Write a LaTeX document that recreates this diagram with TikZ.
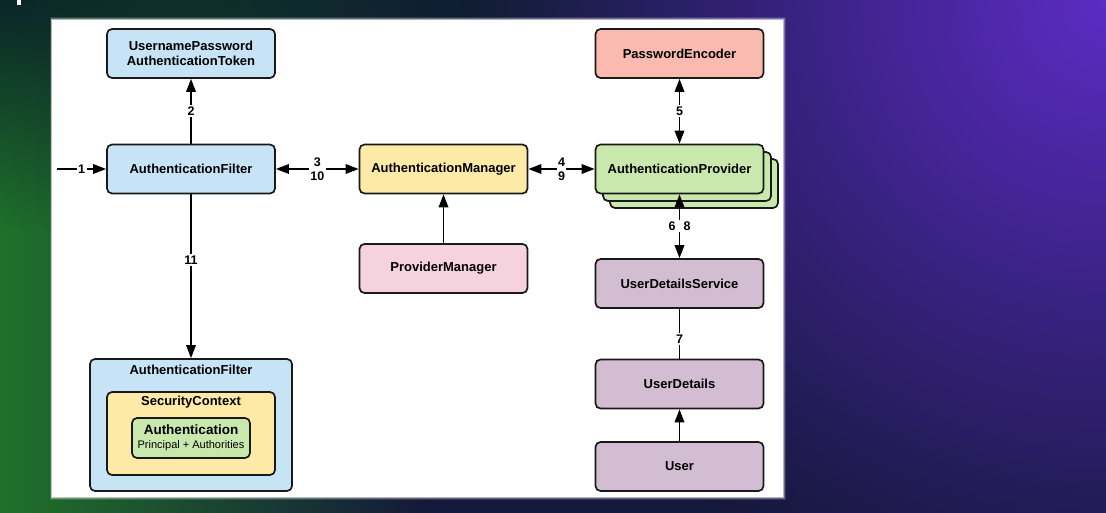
\documentclass[tikz,border=0pt]{standalone}
\usepackage{fontspec}
\setmainfont{Liberation Sans}
\usetikzlibrary{arrows.meta,fadings}

\definecolor{bgnavy}{RGB}{20,24,58}
\definecolor{bggreen}{RGB}{32,114,42}
\definecolor{bgteal}{RGB}{10,38,40}
\definecolor{bgpurple}{RGB}{92,44,196}
\definecolor{filterblue}{RGB}{199,227,246}
\definecolor{manageryellow}{RGB}{253,234,166}
\definecolor{providergreen}{RGB}{200,232,173}
\definecolor{encoderred}{RGB}{250,186,176}
\definecolor{pmpink}{RGB}{246,210,222}
\definecolor{userpurple}{RGB}{211,189,210}

\tikzfading[name=fade right, left color=transparent!0, right color=transparent!100]
\tikzfading[name=glow, inner color=transparent!0, outer color=transparent!100]

\begin{document}
\begin{tikzpicture}[x=1pt, y=-1pt, every node/.style={font=\bfseries\fontsize{13}{15}\selectfont}, >={Triangle[length=13pt,width=9.5pt]},
	box/.style={draw=black!90, line width=1.7pt, rounded corners=5pt, minimum width=168pt, minimum height=49pt, align=center, inner sep=0pt},
	lbl/.style={fill=white, inner sep=1.5pt, font=\bfseries\fontsize{12.5}{14}\selectfont, align=center},
	link/.style={line width=1.8pt}]
	\useasboundingbox (0,0) rectangle (1106,513);
	% background
	\begin{scope}
		\clip (0,0) rectangle (1106,513);
		\fill[bgnavy] (0,0) rectangle (1106,513);
		\fill[bggreen, path fading=fade right] (0,0) rectangle (430,513);
		\fill[bgteal, path fading=glow] (0,0) ellipse (800pt and 230pt);
		\fill[bgpurple, path fading=glow] (1106,0) ellipse (640pt and 640pt);
		\fill[white] (17,0) rectangle (21,5);
	\end{scope}
	\foreach \w/\o in {5/0.12,3/0.25,1.5/0.5}
		\draw[white, opacity=\o, line width=\w pt] (52,20) rectangle (783,497);
	\fill[white] (52,20) rectangle (783,497);
	
	\node[box, fill=filterblue] (token) at (191,53.5) {UsernamePassword\\AuthenticationToken};
	\node[box, fill=filterblue] (filter) at (191,169) {AuthenticationFilter};
	\node[box, fill=manageryellow] (manager) at (443.5,169) {AuthenticationManager};
	\node[box, fill=pmpink] (provmgr) at (443.5,268.5) {ProviderManager};
	\node[box, fill=encoderred] (encoder) at (679.5,53.5) {PasswordEncoder};
	\foreach \d in {14.5,7.5}
		\node[box, fill=providergreen] (provider-\d) at (679.5+\d,169+\d) {};
	\node[box, fill=providergreen] (provider) at (679.5,169) {AuthenticationProvider};
	\node[box, fill=userpurple] (uds) at (679.5,283.5) {UserDetailsService};
	\node[box, fill=userpurple] (details) at (679.5,384) {UserDetails};
	\node[box, fill=userpurple] (user) at (679.5,466.5) {User};
	
	\node[box, fill=filterblue, minimum width=202pt, minimum height=132pt] (holder) at (191,425) {};
	\node (holdertitle) at (191,369.5) {AuthenticationFilter};
	\node[box, fill=manageryellow, minimum height=83pt] (context) at (191,433.5) {};
	\node (contexttitle) at (191,402.5) {SecurityContext};
	\node[box, fill=providergreen, minimum width=118pt, minimum height=40pt, font=\bfseries\fontsize{13.5}{14}\selectfont] (auth) at (191,438) {Authentication\\{\mdseries\fontsize{11}{13.5}\selectfont Principal + Authorities}};
	
	\coordinate (entry) at (57,169);
	\draw[link, ->] (entry) -- node[lbl] {1} (filter);
	\draw[link, ->] (filter) -- node[lbl] {2} (token);
	\draw[link, <->] (filter) -- node[lbl] {3\\10} (manager);
	\draw[link, <->] (manager) -- node[lbl] {4\\9} (provider);
	\draw[link, ->] (provmgr) -- (manager);
	\draw[link, <->] (encoder) -- node[lbl] {5} (provider);
	\draw[link, <->] (provider) -- node[lbl] {6\hspace{8pt}8} (uds);
	\draw[link] (uds) -- node[lbl, pos=0.6] {7} (details);
	\draw[link, ->] (user) -- (details);
	\draw[link, ->] (filter) -- node[lbl, pos=0.4] {11} (holder);
	
\end{tikzpicture}
\end{document}
